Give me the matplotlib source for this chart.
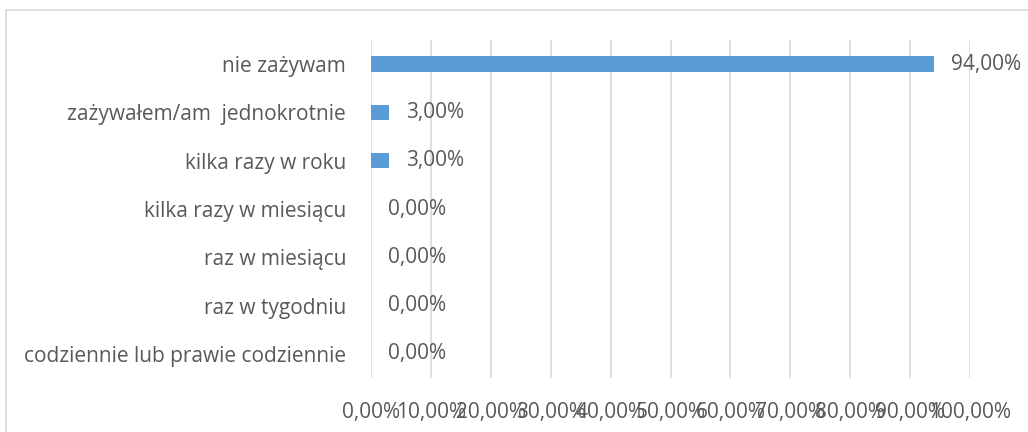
import matplotlib
matplotlib.use("Agg")
import matplotlib.pyplot as plt
from matplotlib.patches import Rectangle

categories = [
    "nie zażywam",
    "zażywałem/am  jednokrotnie",
    "kilka razy w roku",
    "kilka razy w miesiącu",
    "raz w miesiącu",
    "raz w tygodniu",
    "codziennie lub prawie codziennie",
]
values = [94.0, 3.0, 3.0, 0.0, 0.0, 0.0, 0.0]
xticks = [0, 10, 20, 30, 40, 50, 60, 70, 80, 90, 100]

def fmt(v):
    return f"{v:.2f}".replace(".", ",") + "%"

plt.rcParams['font.family'] = ['Open Sans', 'DejaVu Sans']
text_color = "#595959"
grid_color = "#D9D9D9"
bar_color = "#5B9BD5"

fig = plt.figure(figsize=(10.28, 4.32), dpi=100)
ax = fig.add_axes([371/1028, 1-378/432, (970-371)/1028, (378-40)/432])

ypos = list(range(len(categories)))
ax.barh(ypos, values, height=0.32, color=bar_color, zorder=3)
ax.set_ylim(len(categories)-0.5, -0.5)
ax.set_xlim(0, 100)
ax.set_yticks(ypos)
ax.set_yticklabels(categories, fontsize=15, color=text_color)
ax.set_xticks(xticks)
ax.set_xticklabels([fmt(t) for t in xticks], fontsize=15, color=text_color)
ax.tick_params(axis='both', length=0)
ax.tick_params(axis='y', pad=18)
ax.tick_params(axis='x', pad=17)
ax.grid(axis='x', color=grid_color, linewidth=1.2, zorder=0)
for s in ax.spines.values():
    s.set_visible(False)

for y, v in zip(ypos, values):
    ax.annotate(fmt(v), xy=(v, y), xytext=(12, 0), textcoords='offset points',
                va='center', ha='left', fontsize=15, color=text_color)

fig.patches.append(Rectangle((6/1028, -0.1), 1.2, 1 - 10/432 + 0.1,
                             transform=fig.transFigure, fill=False,
                             edgecolor=grid_color, linewidth=1.2))

fig.savefig("out.png", dpi=100)
